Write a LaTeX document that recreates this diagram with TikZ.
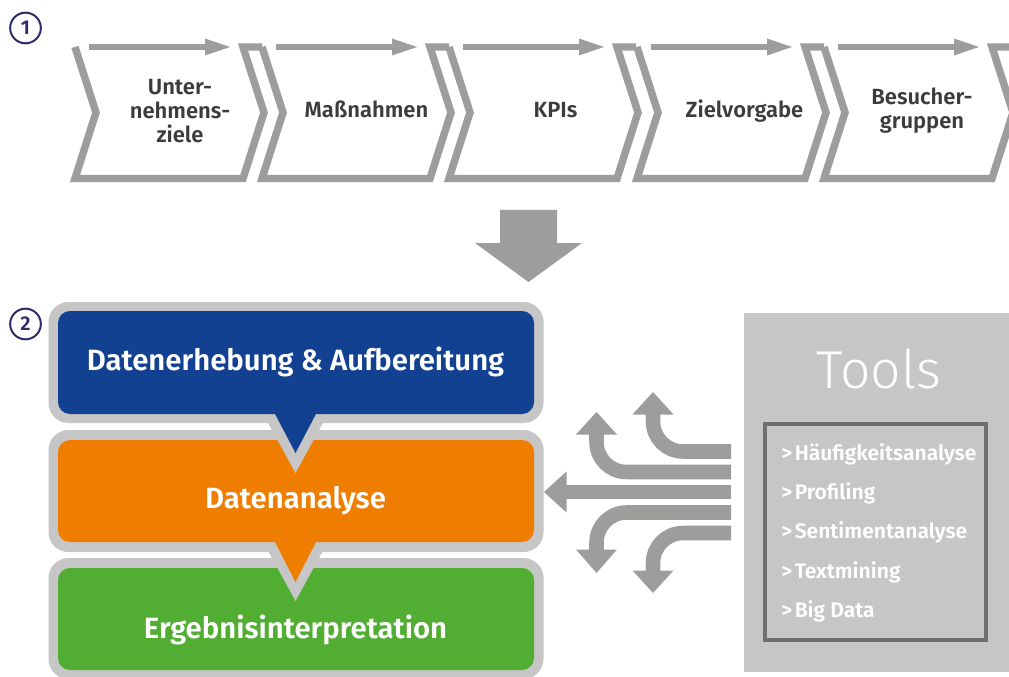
\documentclass[tikz,border=0pt]{standalone}
\usepackage{fontspec}
\setmainfont{Fira Sans}[BoldFont={Fira Sans SemiBold}]
\newfontfamily\lightfont{Fira Sans Light}
\definecolor{chevgray}{HTML}{9D9D9C}
\definecolor{boxgray}{HTML}{C6C6C6}
\definecolor{darkframe}{HTML}{6F6F6E}
\definecolor{blueF}{HTML}{124191}
\definecolor{orangeF}{HTML}{EF7D00}
\definecolor{greenF}{HTML}{52AE32}
\definecolor{textgray}{HTML}{3C3C3B}
\definecolor{numpurple}{HTML}{2E2A6B}
\begin{document}
\begin{tikzpicture}[x=0.75pt,y=-0.75pt,
  chev/.style={draw=chevgray,line width=5.6pt,line join=miter},
  topshaft/.style={draw=chevgray,line width=5pt},
  fanline/.style={draw=chevgray,line width=10.9pt,rounded corners=22.5pt},
  chevlabel/.style={text=textgray,font=\fontsize{16.5}{18}\selectfont\bfseries,align=center,inner sep=0pt},
  boxlabel/.style={text=white,font=\fontsize{22}{24}\selectfont\bfseries,inner sep=0pt,anchor=base},
  toollabel/.style={text=white,font=\fontsize{15.8}{18}\selectfont\bfseries,inner sep=0pt,anchor=base west},
  numcircle/.style={circle,draw=numpurple,line width=1.5pt,minimum size=23pt,inner sep=0pt,text=numpurple,font=\fontsize{15}{16}\selectfont\bfseries}
]
\useasboundingbox (0,0) rectangle (1009,677);
\fill[white] (0,0) rectangle (1009,677);

% ---- step 1: chevrons
\foreach \L/\R [count=\i] in {75/243,262/430,449/617,637/805,824/992}{
  \coordinate (ctl\i) at (\L,47);
  \coordinate (ctr\i) at (\R,47);
  \draw[chev] (ctl\i) -- ({\L+21},112.5) -- (\L,178.5) -- (\R,178.5) -- ({\R+21},112.5) -- (ctr\i) -- ({\R+19},47);
  \coordinate (as\i) at ({\L+14},47);
  \coordinate (ab\i) at ({\R-38},47);
  \coordinate (at\i) at ({\R-13},47);
  \draw[topshaft] (as\i) -- ([xshift=0.5pt]ab\i);
  \fill[chevgray] ({\R-38},38.5) -- (at\i) -- ({\R-38},55.5) -- cycle;
}
\node[chevlabel] (c1) at (180,111) {Unter-\\nehmens-\\ziele};
\node[chevlabel,anchor=base] (c2) at (366.5,118) {Maßnahmen};
\node[chevlabel,anchor=base] (c3) at (555.5,118) {KPIs};
\node[chevlabel,anchor=base] (c4) at (744.5,118) {Zielvorgabe};
\node[chevlabel] (c5) at (922,111) {Besucher-\\gruppen};

\node[numcircle] (n1) at (25.5,28) {1};
\node[numcircle] (n2) at (25.5,324) {2};

% ---- big down arrow
\fill[chevgray] (500,210) -- (557,210) -- (557,243) -- (582,243) -- (528.5,282) -- (475,243) -- (500,243) -- cycle;

% ---- step 2 boxes
\fill[boxgray,rounded corners=15pt] (48.5,558) rectangle (543.5,679);
\fill[greenF,rounded corners=9pt] (58,568) rectangle (534,670);
\fill[boxgray,rounded corners=15pt] (48.5,430) rectangle (543.5,552);
\fill[boxgray] (266,547) -- (325,547) -- (295.5,601) -- cycle;
\fill[orangeF,rounded corners=9pt] (58,440) rectangle (534,542);
\fill[orangeF] (274,540) -- (317,540) -- (295.5,582) -- cycle;
\fill[boxgray,rounded corners=15pt] (48.5,302) rectangle (543.5,423);
\fill[boxgray] (266,419) -- (325,419) -- (295.5,473) -- cycle;
\fill[blueF,rounded corners=9pt] (58,311) rectangle (534,414);
\fill[blueF] (274,412) -- (317,412) -- (295.5,453) -- cycle;

\node[boxlabel] (b1) at (295.5,370) {Datenerhebung \& Aufbereitung};
\node[boxlabel] (b2) at (295.5,508) {Datenanalyse};
\node[boxlabel] (b3) at (295.5,638) {Ergebnisinterpretation};

% ---- tools panel
\fill[boxgray] (744,313) rectangle (1012,672);
\node[text=white,font=\fontsize{40}{44}\selectfont\lightfont,anchor=base,inner sep=0pt] (tools) at (879,388) {Tools};
\draw[darkframe,line width=3pt] (765,424) rectangle (986,640);
\node[toollabel] (t1) at (781,460) {>\kern2pt Häufigkeitsanalyse};
\node[toollabel] (t2) at (781,499.5) {>\kern2pt Profiling};
\node[toollabel] (t3) at (781,538.5) {>\kern2pt Sentimentanalyse};
\node[toollabel] (t4) at (781,578) {>\kern2pt Textmining};
\node[toollabel] (t5) at (781,617) {>\kern2pt Big Data};

% ---- fan arrows
\coordinate (f1) at (731,451.5);
\coordinate (f2) at (731,472);
\coordinate (f3) at (731,492);
\coordinate (f4) at (731,512.5);
\coordinate (f5) at (731,533);
\draw[fanline] (f1) -- (653,451.5) -- (653,413);
\fill[chevgray] (632.5,414.5) -- (673.5,414.5) -- (653,392) -- cycle;
\draw[fanline] (f2) -- (596.5,472) -- (596.5,433);
\fill[chevgray] (576,434.5) -- (617,434.5) -- (596.5,412) -- cycle;
\draw[fanline] (f3) -- (565,492);
\fill[chevgray] (566.5,471.5) -- (566.5,512.5) -- (544,492) -- cycle;
\draw[fanline] (f4) -- (596.5,512.5) -- (596.5,551);
\fill[chevgray] (576,549.5) -- (617,549.5) -- (596.5,573) -- cycle;
\draw[fanline] (f5) -- (653,533) -- (653,572);
\fill[chevgray] (632.5,570.5) -- (673.5,570.5) -- (653,593) -- cycle;
\end{tikzpicture}
\end{document}
